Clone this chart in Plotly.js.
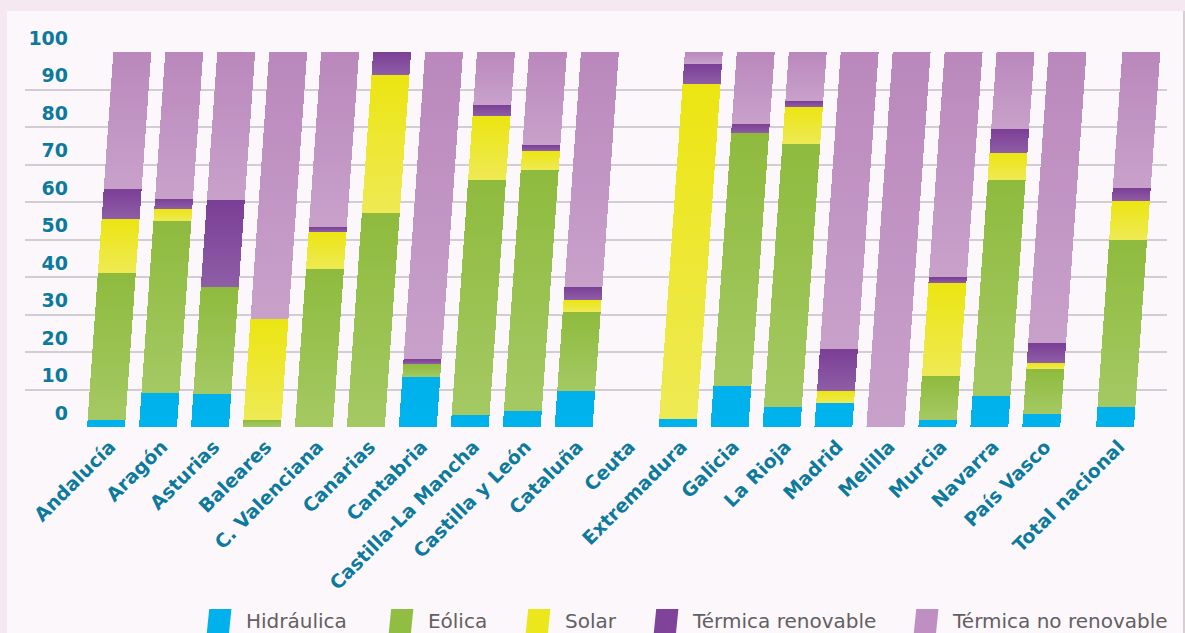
<!DOCTYPE html>
<html>
<head>
<meta charset="utf-8">
<script src="https://cdn.plot.ly/plotly-3.0.1.min.js"></script>
<style>
  html, body { margin: 0; padding: 0; background: #F5E8F0; width: 1185px; height: 633px; overflow: hidden; }
  #chart { position: absolute; left: 7px; top: 11px; width: 1176px; height: 622px; border-right: 2px solid #D8CFD5; }
</style>
</head>
<body>
<div id="chart"></div>
<script>
const categories = ['Andalucía', 'Aragón', 'Asturias', 'Baleares', 'C. Valenciana', 'Canarias', 'Cantabria',
  'Castilla-La Mancha', 'Castilla y León', 'Cataluña', 'Ceuta', 'Extremadura', 'Galicia', 'La Rioja',
  'Madrid', 'Melilla', 'Murcia', 'Navarra', 'País Vasco', 'Total nacional'];
const hidraulica = [1.9, 9.0, 8.8, 0, 0, 0, 13.3, 3.2, 4.3, 9.5, 0, 2.1, 10.9, 5.3, 6.4, 0, 1.9, 8.3, 3.5, 5.3];
const eolica     = [39.1, 45.9, 28.5, 1.9, 42.1, 57.0, 3.5, 62.7, 64.2, 21.2, 0, 0, 67.4, 70.2, 0, 0, 11.7, 57.6, 12.0, 44.6];
const solar      = [14.5, 3.3, 0, 27.0, 9.9, 36.9, 0, 17.0, 5.1, 3.2, 0, 89.3, 0, 9.8, 3.2, 0, 24.7, 7.1, 1.6, 10.3];
const termicaRenovable   = [8.1, 2.7, 23.2, 0, 1.3, 6.1, 1.3, 3.1, 1.6, 3.5, 0, 5.5, 2.6, 1.6, 11.2, 0, 1.6, 6.5, 5.3, 3.5];
const termicaNoRenovable = [36.4, 39.1, 39.5, 71.1, 46.7, 0, 81.9, 14.0, 24.8, 62.6, 0, 3.1, 19.1, 13.1, 79.2, 100, 60.1, 20.5, 77.6, 36.3];
const seriesNames = ['Hidráulica', 'Eólica', 'Solar', 'Térmica renovable', 'Térmica no renovable'];
const yTicks = [0, 10, 20, 30, 40, 50, 60, 70, 80, 90, 100];

const seriesValues = [hidraulica, eolica, solar, termicaRenovable, termicaNoRenovable];
const colors = ['#00B1EB', '#91BD43', '#ECE61C', '#7F4399', '#BE8FC0'];
const gradients = [['#00B1EB', '#00B3EC'], ['#8EBB3E', '#A4C963'], ['#ECE512', '#EEEA54'], ['#7B3E95', '#8E5EA6'], ['#BA88BC', '#C8A1CA']];

// category positions: extra gap before the national total
const xpos = categories.map((c, i) => c === 'Total nacional' ? i + 0.42 : i);

const legendX = [0.1585, 0.3178, 0.4378, 0.5499, 0.7776];
const legendIds = ['legend', 'legend2', 'legend3', 'legend4', 'legend5'];

const data = seriesNames.map((name, i) => ({
  type: 'bar',
  name: name,
  x: xpos,
  y: seriesValues[i],
  width: 0.73,
  marker: { color: colors[i], line: { width: 0 } },
  legend: legendIds[i],
  hoverinfo: 'none'
}));

const legendFont = { family: 'DejaVu Sans', size: 20, color: '#626062' };
const layout = {
  width: 1176, height: 622,
  paper_bgcolor: '#FCF7FA', plot_bgcolor: 'rgba(0,0,0,0)',
  margin: { l: 18, r: 16, t: 41, b: 206, autoexpand: false },
  barmode: 'stack',
  showlegend: true,
  xaxis: {
    range: [-1.56, 20.42], tickvals: xpos, ticktext: categories, tickangle: -45,
    showgrid: false, zeroline: false, showline: false, ticks: '', automargin: false,
    ticklabelshift: 4, ticklabelstandoff: 4,
    tickfont: { family: 'DejaVu Sans', size: 19, weight: 700, color: '#0C7A9D' }
  },
  yaxis: {
    range: [0, 100], tickvals: yTicks, anchor: 'free', position: 0.0377,
    showgrid: true, gridcolor: '#D2CDD2', gridwidth: 2, zeroline: false, showline: false, ticks: '',
    ticklabelshift: -14, automargin: false,
    tickfont: { family: 'DejaVu Sans', size: 19, weight: 700, color: '#0C7A9D' }
  }
};
legendIds.forEach((id, i) => {
  layout[id] = { orientation: 'h', x: legendX[i], xanchor: 'left', y: -0.515, yanchor: 'middle',
    bgcolor: 'rgba(0,0,0,0)', borderwidth: 0, font: legendFont };
});

const gd = document.getElementById('chart');
Plotly.newPlot(gd, data, layout, { displayModeBar: false, staticPlot: true }).then(() => {
  const NS = 'http://www.w3.org/2000/svg';
  const svg = gd.querySelector('.main-svg');
  let defs = svg.querySelector('defs');
  if (!defs) { defs = document.createElementNS(NS, 'defs'); svg.insertBefore(defs, svg.firstChild); }
  gradients.forEach((g, i) => {
    const lg = document.createElementNS(NS, 'linearGradient');
    lg.setAttribute('id', 'segGrad' + i);
    lg.setAttribute('x1', '0'); lg.setAttribute('y1', '0'); lg.setAttribute('x2', '0'); lg.setAttribute('y2', '1');
    [[0, g[0]], [1, g[1]]].forEach(([o, c]) => {
      const s = document.createElementNS(NS, 'stop');
      s.setAttribute('offset', o); s.setAttribute('stop-color', c);
      lg.appendChild(s);
    });
    defs.appendChild(lg);
  });
  gd.querySelectorAll('.barlayer .trace').forEach((tr, i) => {
    tr.querySelectorAll('path').forEach(p => { p.style.fill = 'url(#segGrad' + i + ')'; });
  });
  // slanted bars, bottoms fixed on the baseline
  const H = gd._fullLayout._size.h;
  const k = 0.07;
  const bl = gd.querySelector('.barlayer');
  if (bl) bl.setAttribute('transform', 'matrix(1,0,' + (-k) + ',1,' + (k * H) + ',0)');
  // larger slanted legend swatches
  gd.querySelectorAll('.legendpoints path').forEach(p => {
    p.setAttribute('transform', 'translate(13,2) matrix(1.85,0,-0.22,2.2,0,0)');
  });
});
</script>
</body>
</html>
